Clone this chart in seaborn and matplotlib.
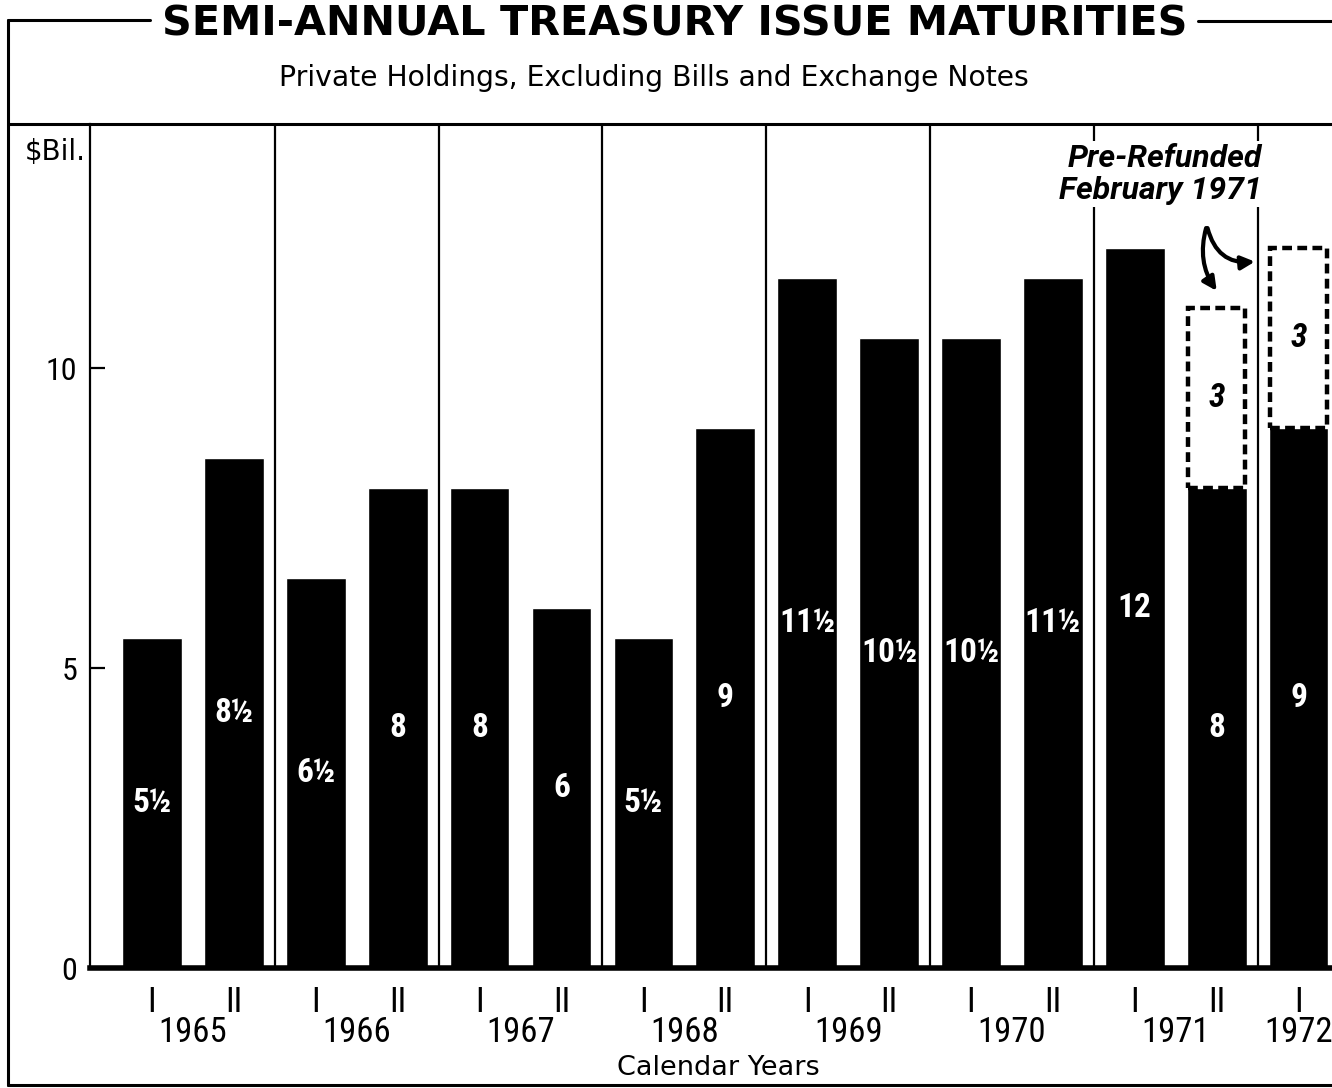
import numpy as np
import pandas as pd
import seaborn as sns
import matplotlib.pyplot as plt
from matplotlib.lines import Line2D
from matplotlib.transforms import blended_transform_factory

# Semi-annual maturities, $ billions (private holdings)
years = [1965, 1965, 1966, 1966, 1967, 1967, 1968, 1968,
         1969, 1969, 1970, 1970, 1971, 1971, 1972]
halves = ["I", "II", "I", "II", "I", "II", "I", "II",
          "I", "II", "I", "II", "I", "II", "I"]
private = [5.5, 8.5, 6.5, 8, 8, 6, 5.5, 9, 11.5, 10.5, 10.5, 11.5, 12, 8, 9]
prerefunded = [0, 0, 0, 0, 0, 0, 0, 0, 0, 0, 0, 0, 0, 3, 3]
year_labels = ["1965", "1966", "1967", "1968", "1969", "1970", "1971", "1972"]
y_ticks = [0, 5, 10]

NARROW = ["Roboto Condensed", "DejaVu Sans"]
WIDE = ["DejaVu Sans"]
ANNOT = ["Roboto", "DejaVu Sans"]


def fmt(v):
    whole = int(v)
    return f"{whole}½" if v - whole >= 0.5 else f"{whole}"


df = pd.DataFrame({
    "period": [f"{y} {h}" for y, h in zip(years, halves)],
    "half": halves,
    "private": private,
    "prerefunded": prerefunded,
})

sns.set_style("white")
plt.rcParams["font.family"] = NARROW
for key in ["text.color", "axes.labelcolor", "xtick.color", "ytick.color", "axes.edgecolor"]:
    plt.rcParams[key] = "black"

W, H = 1332, 1088
fig = plt.figure(figsize=(W / 100, H / 100), dpi=100)

ax_left, ax_top, ax_bottom = 90, 124, 968
ax = fig.add_axes([ax_left / W, 1 - ax_bottom / H, 1 - ax_left / W, (ax_bottom - ax_top) / H])

sns.barplot(data=df, x="period", y="private", color="black", saturation=1,
            width=0.73, ax=ax, order=df["period"])

pos = np.arange(len(df))
# pre-refunded portions shown as dashed outlines stacked on top
mask = df["prerefunded"] > 0
ax.bar(pos[mask], df["prerefunded"][mask], bottom=df["private"][mask], width=0.70,
       fill=False, edgecolor="black", linestyle=(0, (2.2, 1.2)), linewidth=3.2)

px_per_unit = 81.9
ax.set_xlim(-62 / px_per_unit, (W - 152) / px_per_unit)
ax.set_ylim(0, 14.07)

# year separators
for s in np.arange(1.5, 14, 2):
    ax.axvline(s, color="black", lw=1.6, zorder=0.5)

# value labels
for i, row in df.iterrows():
    ax.text(i, row["private"] / 2, fmt(row["private"]), color="white",
            ha="center", va="center", fontsize=24, fontweight="bold")
    if row["prerefunded"] > 0:
        ax.text(i, row["private"] + row["prerefunded"] / 2, fmt(row["prerefunded"]),
                color="black", ha="center", va="center", fontsize=24,
                fontweight="bold", fontstyle="italic")

# axes styling
for side in ["top", "right"]:
    ax.spines[side].set_visible(False)
ax.spines["left"].set_linewidth(1.6)
ax.spines["bottom"].set_linewidth(4)
ax.set_yticks(y_ticks)
ax.set_yticklabels([str(t) for t in y_ticks])
ax.tick_params(axis="y", direction="in", length=11, width=1.6, pad=9,
               labelsize=23, left=True)
ax.set_xticks(pos)
ax.set_xticklabels(df["half"])
ax.tick_params(axis="x", length=0, pad=13, labelsize=25)
ax.set_xlabel("")
ax.set_ylabel("")

trans = blended_transform_factory(ax.transData, ax.transAxes)
year_x = [2 * k + 0.5 for k in range(7)] + [14]
for x, lab in zip(year_x, year_labels):
    ax.text(x, -0.077, lab, transform=trans, ha="center", va="center", fontsize=25)

# annotation for pre-refunded issues
ax.text(13.55, 13.23, "Pre-Refunded\nFebruary 1971", ha="right", va="center",
        fontsize=23, fontweight="bold", fontstyle="italic", linespacing=1.1,
        family=ANNOT,
        bbox=dict(facecolor="white", edgecolor="none", pad=2), zorder=5)
ax.annotate("", xy=(13.02, 11.25), xytext=(12.88, 12.38),
            arrowprops=dict(arrowstyle="-|>,head_length=0.8,head_width=0.4",
                            color="black", lw=3, connectionstyle="arc3,rad=0.25"))
ax.annotate("", xy=(13.5, 11.78), xytext=(12.88, 12.38),
            arrowprops=dict(arrowstyle="-|>,head_length=0.8,head_width=0.4",
                            color="black", lw=3, connectionstyle="arc3,rad=0.45"))

# titles and frame
fig.text(675 / W, 1 - 25 / H, "SEMI-ANNUAL TREASURY ISSUE MATURITIES", ha="center",
         va="center", fontsize=29.8, fontweight="bold", family=WIDE)
fig.text(654 / W, 1 - 78 / H, "Private Holdings, Excluding Bills and Exchange Notes",
         ha="center", va="center", fontsize=20.3, family=WIDE)
fig.text(25 / W, 1 - 152 / H, "$Bil.", ha="left", va="center", fontsize=20, family=WIDE)
fig.text(718 / W, 1 - 1068 / H, "Calendar Years", ha="center", va="center",
         fontsize=19.5, family=WIDE)


def fline(xs, ys, lw=2.2):
    fig.add_artist(Line2D([x / W for x in xs], [1 - y / H for y in ys],
                          color="black", lw=lw))


fline([8, 150], [20, 20])
fline([1198, W], [21, 21])
fline([8, 8], [20, 1085])
fline([8, W], [124, 124])
fline([8, W], [1085, 1085])

fig.savefig("out.png", dpi=100, facecolor="white")
